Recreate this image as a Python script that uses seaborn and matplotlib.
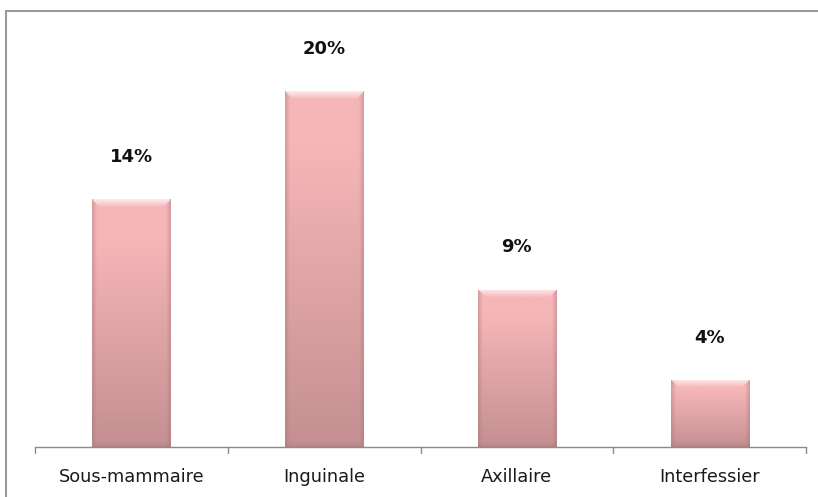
import numpy as np
import pandas as pd
import matplotlib
matplotlib.use("Agg")
import matplotlib.pyplot as plt
from matplotlib.lines import Line2D
from matplotlib.colors import to_rgb
import seaborn as sns

categories = ["Sous-mammaire", "Inguinale", "Axillaire", "Interfessier"]
values = [14, 20, 9, 4]
value_labels = ["14%", "20%", "9%", "4%"]

df = pd.DataFrame({"site": categories, "pct": values})

sns.set_theme(style="white")
plt.rcParams["font.family"] = ["DejaVu Sans"]

fig = plt.figure(figsize=(8.18, 4.97), dpi=100)
ax = fig.add_axes([35 / 818, 50 / 497, 771 / 818, 417 / 497])

sns.barplot(data=df, x="site", y="pct", color="#F2B0B3", width=0.405,
            saturation=1, ax=ax, zorder=2)

# the bars sit slightly under the axis line
y_lo, y_hi = 0.29, 23.38
ax.set_ylim(y_lo, y_hi)
ax.set_xlim(-0.5, len(categories) - 0.5)
ax.set_xlabel("")
ax.set_ylabel("")
ax.set_yticks([])
for side in ["top", "right", "left"]:
    ax.spines[side].set_visible(False)
ax.spines["bottom"].set_color("#8c8c8c")
ax.spines["bottom"].set_linewidth(1.0)
ax.spines["bottom"].set_zorder(4)

# category separators on the x axis
ax.set_xticks(np.arange(len(categories)))
ax.set_xticklabels(categories, fontsize=12.8, color="#1a1a1a")
ax.tick_params(axis="x", length=0, pad=15)
for b in np.arange(-0.5, len(categories), 1.0):
    ax.plot([b, b], [y_lo, -0.05], color="#8c8c8c", lw=1.0, clip_on=False,
            zorder=4)

# bevelled fill for each bar
top_c = np.array(to_rgb("#F6B6B8"))
bot_c = np.array(to_rgb("#C48F91"))
dark_c = np.array(to_rgb("#A27577"))
hi_c = np.array(to_rgb("#FFF2F3"))
fig.canvas.draw()
for patch in ax.patches:
    x0, w = patch.get_x(), patch.get_width()
    y0 = max(patch.get_y(), y_lo)
    y1 = patch.get_y() + patch.get_height()
    bb = patch.get_window_extent()
    ph = max(int(round((y1 - y0) / (y_hi - y_lo) * ax.bbox.height)), 2)
    pw = max(int(bb.width), 2)
    yy = np.arange(ph)[:, None] * np.ones((1, pw))   # from top
    xx = np.ones((ph, 1)) * np.arange(pw)[None, :]
    # vertical gradient, light at the top, dusty rose at the bottom
    t = np.clip((yy / ph - 0.15) / 0.85, 0, 1)[..., None]
    img = top_c * (1 - t) + bot_c * t
    # bottom bevel strip
    bs = np.clip(1 - (ph - yy) / 6.0, 0, 1)[..., None] * 0.4
    img = img * (1 - bs) + dark_c * bs
    # side bevels
    edge = np.minimum(xx, pw - 1 - xx)
    sb = np.clip(1 - edge / 4.5, 0, 1)[..., None] * 0.4
    img = img * (1 - sb) + dark_c * sb
    # top highlight with angled corners
    tb = np.clip(1 - yy / 8.0, 0, 1) * (edge > yy * 0.9)
    tb = tb[..., None] * 0.85
    img = img * (1 - tb) + hi_c * tb
    im = ax.imshow(np.clip(img, 0, 1), extent=[x0, x0 + w, y0, y1],
                   aspect="auto", zorder=2.5, interpolation="bilinear")
    im.set_clip_path(patch)
    patch.set_edgecolor("#b08385")
    patch.set_linewidth(0.6)

# value labels above bars
for i, (v, lab) in enumerate(zip(values, value_labels)):
    ax.text(i, v + 2.35, lab, ha="center", va="center", fontsize=13,
            fontweight="bold", color="#111111")

# chart frame (top and left edges)
fig.add_artist(Line2D([6 / 818, 1.0], [1 - 11 / 497, 1 - 11 / 497],
                      transform=fig.transFigure, color="#9a9a9a", lw=1.5))
fig.add_artist(Line2D([6 / 818, 6 / 818], [0, 1 - 11 / 497],
                      transform=fig.transFigure, color="#9a9a9a", lw=1.5))

fig.savefig("out.png", dpi=100)
